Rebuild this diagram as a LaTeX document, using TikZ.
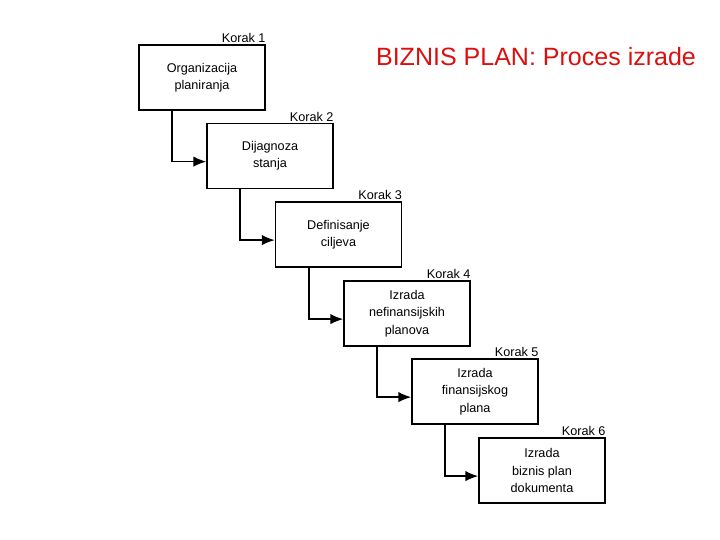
\documentclass[tikz,border=0pt]{standalone}
\usepackage{fontspec}
\setmainfont{Liberation Sans}
\usetikzlibrary{positioning,arrows.meta}
\definecolor{titlered}{HTML}{DC0F0F}

\begin{document}
\begin{tikzpicture}[x=0.25cm,y=-0.25cm,
  korak/.style={draw,line width=1.1pt,fill=white,minimum width=3.15cm,minimum height=1.62cm,
    align=center,font=\fontsize{9}{12.3}\selectfont},
  oznaka/.style={above left=1pt and 0pt,inner sep=0pt,font=\fontsize{9}{10}\selectfont},
  strelica/.style={line width=1.1pt,-{Latex[length=3.2mm,width=2.6mm]}}]
\useasboundingbox (0,0) rectangle (72,54);
\node[titlered,font=\fontsize{17.8}{20}\selectfont] (naslov) at (53.6,5.7) {BIZNIS PLAN: Proces izrade};
% koraci
\node[korak] (k1) at (20.2,7.75) {Organizacija\\planiranja};
\node[korak] (k2) at (27.0,15.6) {Dijagnoza\\stanja};
\node[korak] (k3) at (33.85,23.45) {Definisanje\\ciljeva};
\node[korak] (k4) at (40.7,31.35) {Izrada\\nefinansijskih\\planova};
\node[korak] (k5) at (47.5,39.15) {Izrada\\finansijskog\\plana};
\node[korak] (k6) at (54.2,47.05) {Izrada\\biznis plan\\dokumenta};
\foreach \i in {1,...,6}
  \node[oznaka] (o\i) at (k\i.north east) {Korak \i};
% strelice
\foreach \i/\j in {1/2,2/3,3/4,4/5,5/6}
  \draw[strelica] ([xshift=0.85cm]k\i.south west) |- ([yshift=-0.14cm]k\j.west);
\end{tikzpicture}
\end{document}
